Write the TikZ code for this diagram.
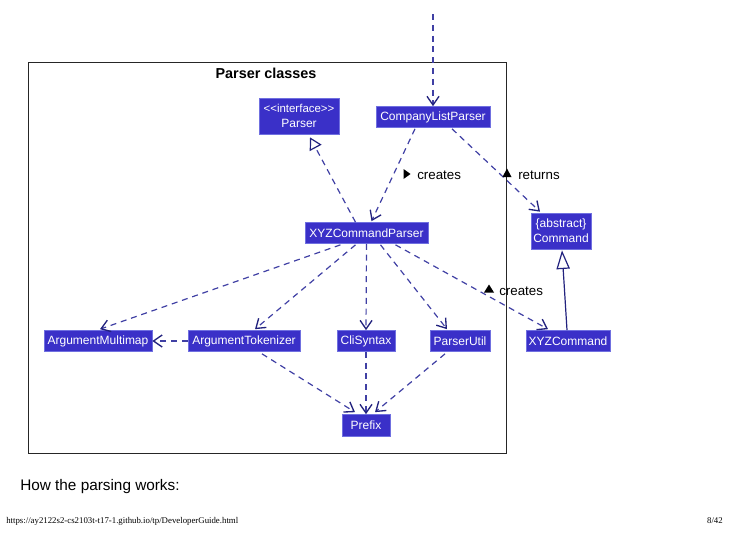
\documentclass[tikz,border=0pt]{standalone}
\usepackage{fontspec}
\setmainfont{Liberation Serif}
\setsansfont{Liberation Sans}
\usetikzlibrary{arrows.meta,calc}
\definecolor{clsfill}{HTML}{3A30C8}
\definecolor{clsborder}{HTML}{7070E0}
\definecolor{edgecol}{HTML}{4040A4}
\definecolor{headcol}{HTML}{22227E}
\tikzset{
  cls/.style={fill=clsfill, draw=clsborder, line width=0.5pt, text=white,
    font=\sffamily\fontsize{9}{10.5}\selectfont, inner sep=1pt, align=center},
  dep/.style={draw=edgecol, line width=0.9pt, dash pattern=on 4.5pt off 3.6pt,
    -{Straight Barb[length=6.5pt,width=9pt,line width=1pt,color=headcol]}},
  real/.style={draw=edgecol, line width=0.9pt, dash pattern=on 4.5pt off 3.6pt,
    -{Triangle[open,length=9pt,width=10pt,color=headcol,fill=white]}},
  inh/.style={draw=headcol, line width=0.9pt,
    -{Triangle[open,length=14pt,width=10pt,color=headcol,fill=white]}},
  lbl/.style={font=\sffamily\fontsize{10}{12}\selectfont, text=black, anchor=west, inner sep=0pt},
  tri/.style={fill=black}
}
\begin{document}
\begin{tikzpicture}[x=0.75pt,y=-0.75pt]
\useasboundingbox (0,0) rectangle (738,539);
% frame
\node[draw=black!85, line width=1pt, minimum width={478*0.75pt}, minimum height={391*0.75pt}, inner sep=0pt, anchor=north west] (frame) at (28,62) {};
\node[font=\sffamily\bfseries\fontsize{10.8}{12}\selectfont, inner sep=0pt] (title) at (266,73) {Parser classes};
% classes
\node[cls, minimum width={80*0.75pt}, minimum height={36*0.75pt}] (parser) at (299,116) {\fontsize{8.6}{9.5}\selectfont{<}{<}interface{>}{>}\\[0.5pt]Parser};
\node[cls, minimum width={114*0.75pt}, minimum height={21*0.75pt}] (clp) at (433,117) {CompanyListParser};
\node[cls, minimum width={123*0.75pt}, minimum height={21*0.75pt}] (xyzp) at (366.5,233) {XYZCommandParser};
\node[cls, minimum width={60*0.75pt}, minimum height={36*0.75pt}] (cmd) at (561,231) {{\{}abstract\}\\[1pt]Command};
\node[cls, minimum width={108*0.75pt}, minimum height={21*0.75pt}] (amap) at (98,341) {ArgumentMultimap};
\node[cls, minimum width={112*0.75pt}, minimum height={21*0.75pt}] (atok) at (244,341) {ArgumentTokenizer};
\node[cls, minimum width={58*0.75pt}, minimum height={21*0.75pt}] (cli) at (366,341) {CliSyntax};
\node[cls, minimum width={60*0.75pt}, minimum height={21*0.75pt}] (putil) at (460,341) {ParserUtil};
\node[cls, minimum width={84*0.75pt}, minimum height={21*0.75pt}] (xyzc) at (568,341) {XYZCommand};
\node[cls, minimum width={48*0.75pt}, minimum height={22*0.75pt}] (prefix) at (366,425.5) {Prefix};
% incoming
\coordinate (top) at (433,14);
\draw[dep] (top) -- (clp.north);
% edges
\draw[real] ($(xyzp.north)+(-11,0)$) -- ($(parser.south)+(11,3)$);
\draw[dep] ($(clp.south)+(-18,1)$) -- ($(xyzp.north)+(5,-1)$);
\draw[dep] ($(clp.south)+(19,1)$) -- ($(cmd.north)+(-21,-1)$);
\draw[inh] ($(xyzc.north)+(-1,0)$) -- ($(cmd.south)+(1,1)$);
\draw[dep] ($(xyzp.south)+(-26,1)$) -- ($(amap.north)+(2,-1)$);
\draw[dep] ($(xyzp.south)+(-11,1)$) -- ($(atok.north)+(11,-1)$);
\draw[dep] (xyzp.south) -- (cli.north);
\draw[dep] ($(xyzp.south)+(14,1)$) -- ($(putil.north)+(-13,-1)$);
\draw[dep] ($(xyzp.south)+(29,1)$) -- ($(xyzc.north)+(-20,-1)$);
\draw[dep] (atok.west) -- (amap.east);
\draw[dep] ($(atok.south)+(18,2)$) -- ($(prefix.north)+(-11,-2)$);
\draw[dep] (cli.south) -- (prefix.north);
\draw[dep] ($(putil.south)+(-15,2)$) -- ($(prefix.north)+(9,-2)$);
% labels
\fill[tri] (403.5,169) -- (410.5,174) -- (403.5,179) -- cycle;
\node[lbl] (l1) at (417,175.5) {creates};
\fill[tri] (502.5,177) -- (507,168.5) -- (511.5,177) -- cycle;
\node[lbl] (l2) at (518,175.5) {returns};
\fill[tri] (484,292.5) -- (489,284.5) -- (494,292.5) -- cycle;
\node[lbl] (l3) at (499,291) {creates};
% page text
\node[font=\sffamily\fontsize{11.5}{13}\selectfont, anchor=west, inner sep=0pt] (how) at (20,487) {How the parsing works:};
\node[font=\rmfamily\fontsize{6.6}{8}\selectfont, anchor=west, inner sep=0pt] (url) at (6,521) {https://ay2122s2-cs2103t-t17-1.github.io/tp/DeveloperGuide.html};
\node[font=\rmfamily\fontsize{6.6}{8}\selectfont, anchor=east, inner sep=0pt] (page) at (723,521) {8/42};
\end{tikzpicture}
\end{document}
